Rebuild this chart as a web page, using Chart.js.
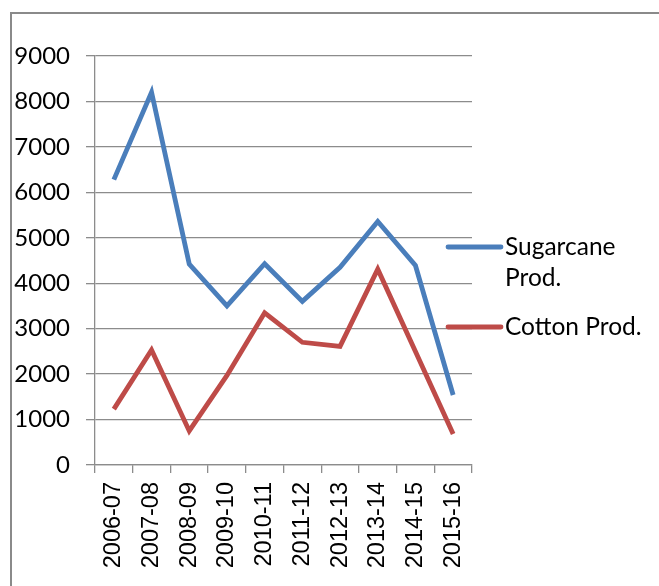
<!DOCTYPE html>
<html lang="en">
<head>
    <meta charset="UTF-8">
    <title>Sugarcane and Cotton Production</title>
    <script src="https://cdn.jsdelivr.net/npm/chart.js"></script>
    <style>
        html, body {
            margin: 0;
            padding: 0;
            background: white;
            width: 659px;
            height: 586px;
            overflow: hidden;
        }
        .frame {
            position: absolute;
            left: 10px;
            top: 12px;
            width: 700px;
            height: 640px;
            border: 2px solid #8a8a8a;
        }
        #wrap {
            position: absolute;
            left: 0;
            top: 0;
            width: 659px;
            height: 586px;
        }
    </style>
</head>
<body>
    <div class="frame"></div>
    <div id="wrap"><canvas id="prodChart"></canvas></div>

    <script>
        // values
        const years = ["2006-07", "2007-08", "2008-09", "2009-10", "2010-11",
                       "2011-12", "2012-13", "2013-14", "2014-15", "2015-16"];
        const sugarcane = [6280, 8200, 4420, 3500, 4430, 3600, 4350, 5360, 4390, 1540];
        const cotton = [1230, 2530, 750, 1970, 3350, 2700, 2610, 4310, 2500, 680];
        const seriesNames = ["Sugarcane Prod.", "Cotton Prod."];
        const seriesColors = ["#4A7EBB", "#BE4B48"];

        const gridCol = "#8c8c8c";
        const labelFont = "Lato";

        // Excel style legend on the right, with wrapping text
        const sideLegend = {
            id: 'sideLegend',
            afterDraw(chart) {
                const ctx = chart.ctx;
                ctx.save();
                ctx.font = "24.5px " + labelFont;
                ctx.textBaseline = "middle";
                ctx.textAlign = "left";
                let y = 247;
                chart.data.datasets.forEach(ds => {
                    // wrap words
                    let lines = [], cur = "";
                    ds.label.split(" ").forEach(w => {
                        let t = cur ? cur + " " + w : w;
                        if (cur && ctx.measureText(t).width > 150) {
                            lines.push(cur);
                            cur = w;
                        } else cur = t;
                    });
                    lines.push(cur);

                    ctx.strokeStyle = ds.borderColor;
                    ctx.lineWidth = 4.8;
                    ctx.lineCap = "round";
                    ctx.beginPath();
                    ctx.moveTo(448, y);
                    ctx.lineTo(501, y);
                    ctx.stroke();

                    ctx.fillStyle = "#000";
                    lines.forEach((l, i) => ctx.fillText(l, 505, y + i * 31));
                    y += lines.length * 31 + 18;
                });
                ctx.restore();
            }
        };

        new Chart(document.getElementById('prodChart'), {
            type: 'line',
            data: {
                labels: years,
                datasets: [
                    {
                        label: seriesNames[0],
                        data: sugarcane,
                        borderColor: seriesColors[0],
                        borderWidth: 4.8,
                        pointRadius: 0,
                        tension: 0,
                        fill: false
                    },
                    {
                        label: seriesNames[1],
                        data: cotton,
                        borderColor: seriesColors[1],
                        borderWidth: 4.8,
                        pointRadius: 0,
                        tension: 0,
                        fill: false
                    }
                ]
            },
            options: {
                responsive: true,
                maintainAspectRatio: false,
                animation: false,
                layout: {
                    padding: { left: 0, top: 56, right: 187, bottom: 0 }
                },
                plugins: {
                    legend: { display: false },
                    tooltip: { enabled: false }
                },
                scales: {
                    x: {
                        offset: true,
                        grid: {
                            offset: true,
                            drawOnChartArea: false,
                            drawTicks: true,
                            tickLength: 8,
                            color: gridCol,
                            lineWidth: 1.3
                        },
                        border: { color: gridCol, width: 1.3 },
                        ticks: {
                            minRotation: 90,
                            maxRotation: 90,
                            autoSkip: false,
                            padding: 9,
                            color: "#000",
                            font: { family: "Liberation Sans", size: 23.5 }
                        },
                        afterFit(scale) { scale.height = 121; }
                    },
                    y: {
                        min: 0,
                        max: 9000,
                        grid: {
                            color: gridCol,
                            lineWidth: 1.3,
                            tickLength: 9
                        },
                        border: { color: gridCol, width: 1.3 },
                        ticks: {
                            stepSize: 1000,
                            padding: 16,
                            color: "#000",
                            font: { family: labelFont, size: 24 },
                            callback: v => String(v)
                        },
                        afterFit(scale) { scale.width = 95; }
                    }
                }
            },
            plugins: [sideLegend]
        });
    </script>
</body>
</html>
